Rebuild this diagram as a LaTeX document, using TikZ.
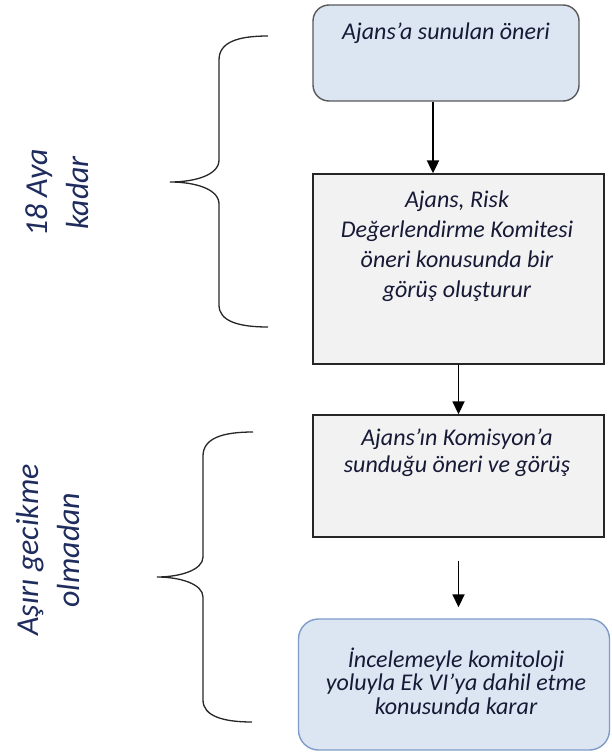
\documentclass[tikz,border=0pt]{standalone}
\usepackage{fontspec}
\setmainfont{Carlito}
\usetikzlibrary{arrows.meta,calc}
\definecolor{boxblue}{HTML}{DCE6F2}
\definecolor{boxgray}{HTML}{F2F2F2}
\definecolor{blueedge}{HTML}{7F9BC8}
\definecolor{txt}{HTML}{161A36}
\definecolor{sidetxt}{HTML}{1F2C5E}
\begin{document}
\begin{tikzpicture}[x=1pt,y=-1pt,
  bluebox/.style={draw=#1, fill=boxblue, line width=1.4pt, rounded corners=16pt},
  graybox/.style={draw=black!85, fill=boxgray, line width=1.4pt},
  boxtext/.style={text=txt, font=\fontsize{24}{30}\selectfont\itshape, align=center, inner sep=0pt},
  sidetext/.style={text=sidetxt, font=\fontsize{32}{40.5}\selectfont\itshape, align=center, inner sep=0pt, rotate=90},
  arr/.style={-{Triangle[width=12pt,length=13pt]}, line width=1.8pt},
  bracestyle/.style={line width=1.3pt, black!85}]
\useasboundingbox (0,0) rectangle (611,755);

% boxes
\node[bluebox=black!65, minimum width=266pt, minimum height=96pt] (b1) at (446,53) {};
\node[boxtext] (t1) at (446,33) {Ajans’a sunulan öneri};

\node[graybox, minimum width=291pt, minimum height=190pt] (b2) at (458.5,269) {};
\node[boxtext] (t2) at (457,246) {Ajans, Risk\\Değerlendirme Komitesi\\öneri konusunda bir\\görüş oluşturur};

\node[graybox, minimum width=291pt, minimum height=122pt] (b3) at (458.5,476) {};
\node[boxtext, font=\fontsize{24}{27}\selectfont\itshape] (t3) at (457,453) {Ajans’ın Komisyon’a\\sunduğu öneri ve görüş};

\node[bluebox=blueedge, rounded corners=20pt, minimum width=311pt, minimum height=131pt] (b4) at (454,684.5) {};
\node[boxtext, font=\fontsize{24}{23.5}\selectfont\itshape] (t4) at (456,681) {İncelemeyle komitoloji\\yoluyla Ek VI’ya dahil etme\\konusunda karar};

% arrows
\coordinate (a1s) at ($(b1.south)+(-13,0)$);
\draw[arr, line width=2.2pt] (a1s) -- (a1s |- b2.north);
\draw[arr] (b2.south) -- (b3.north);
\draw[arr, shorten <=23pt, shorten >=11pt] (b3.south) -- (b3.south |- b4.north);

% braces
\coordinate (br1) at (170,182);
\draw[bracestyle] (268,36) .. controls (238,36) and (219,42) .. (219,60) -- (219,160)
  .. controls (219,175) and (195,182) .. (br1)
  .. controls (195,182) and (219,189) .. (219,204) -- (219,305)
  .. controls (219,321) and (238,327) .. (268,327);
\coordinate (br2) at (157,577);
\draw[bracestyle] (253,432) .. controls (223,432) and (203,438) .. (203,456) -- (203,557)
  .. controls (203,570) and (180,577) .. (br2)
  .. controls (180,577) and (203,584) .. (203,597) -- (203,700)
  .. controls (203,716) and (223,722) .. (252,722);

% side labels
\node[sidetext] (s1) at (57,193) {18 Aya\\kadar};
\node[sidetext] (s2) at (48,550) {Aşırı gecikme\\olmadan};
\end{tikzpicture}
\end{document}
